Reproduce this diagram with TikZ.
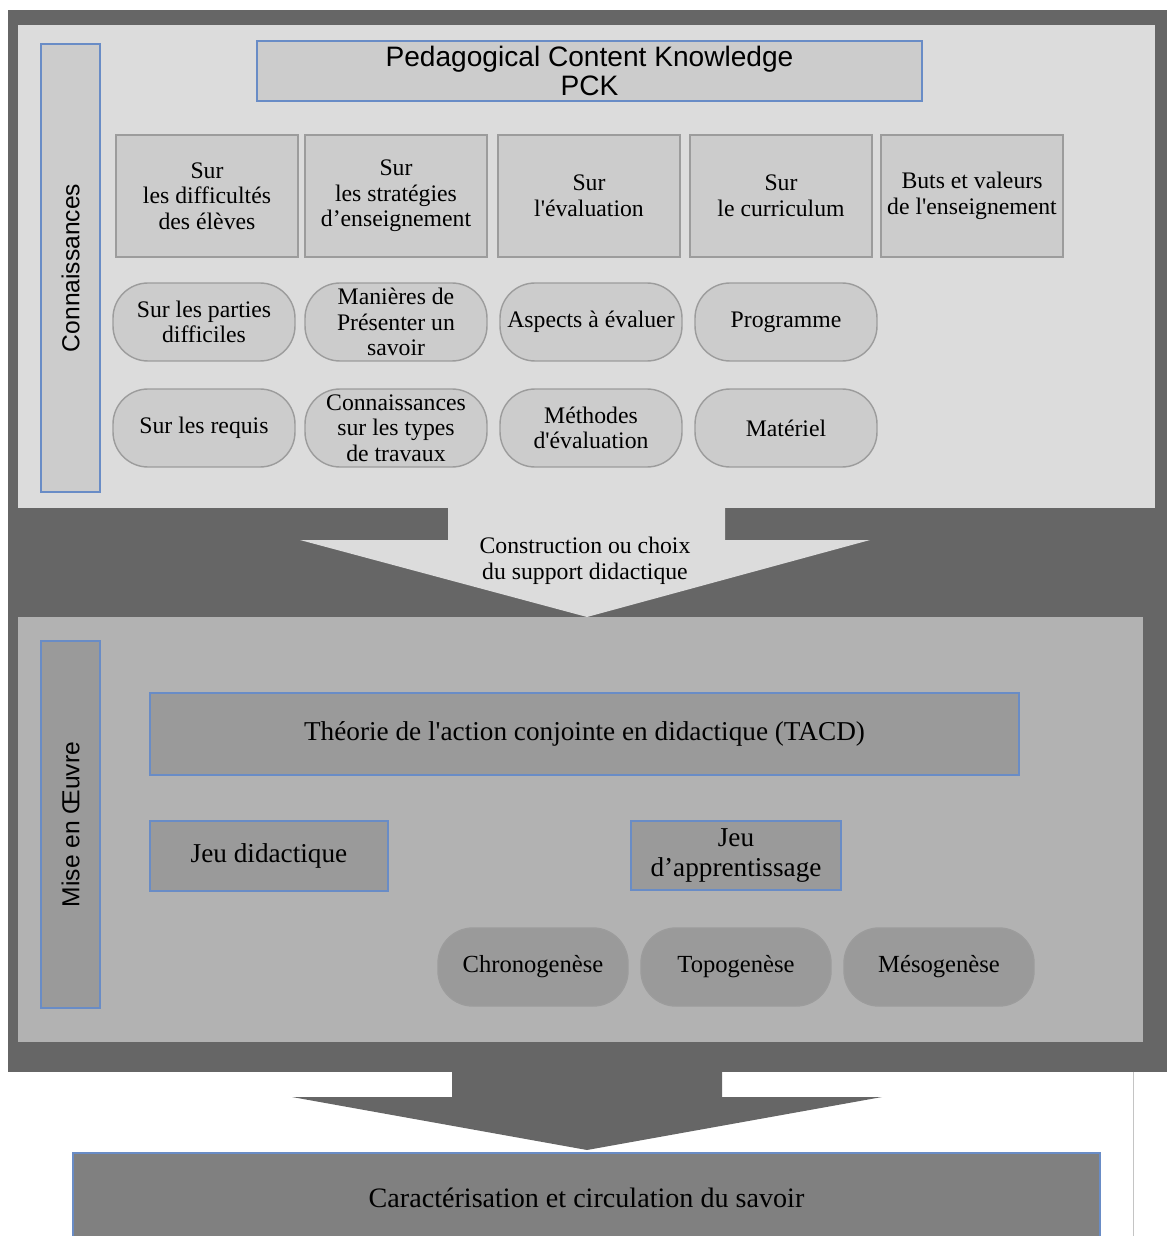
\documentclass[tikz,border=0pt]{standalone}
\usepackage{fontspec}
\setmainfont{Liberation Serif}
\newfontfamily\sansfont{Liberation Sans}
\newcommand\apos{\textquotesingle}
\definecolor{darkbg}{HTML}{666666}
\definecolor{toppanel}{HTML}{DCDCDC}
\definecolor{lowpanel}{HTML}{B2B2B2}
\definecolor{boxfill}{HTML}{CCCCCC}
\definecolor{lowfill}{HTML}{9A9A9A}
\definecolor{endfill}{HTML}{808080}
\definecolor{boxline}{HTML}{9C9C9C}
\definecolor{blueline}{RGB}{105,140,198}
\begin{document}
\begin{tikzpicture}[x=0.02cm,y=-0.02cm,
    every node/.style={align=center,inner sep=1pt,font=\fontsize{13.5}{14.5}\selectfont},
    sqbox/.style={draw=boxline,line width=0.8pt,fill=boxfill,minimum width=3.64cm,minimum height=2.44cm},
    pill/.style={draw=boxline,line width=0.8pt,fill=boxfill,rounded corners=0.7cm,minimum width=3.64cm,minimum height=1.56cm},
    lowpill/.style={pill,fill=lowfill,minimum width=3.8cm,font=\fontsize{14}{15}\selectfont},
    bluebox/.style={draw=blueline,line width=1pt,fill=boxfill},
    lowbox/.style={bluebox,fill=lowfill,font=\fontsize{15.5}{17.5}\selectfont},
    sidelbl/.style={bluebox,rotate=90,minimum height=1.18cm,font=\sansfont\fontsize{14}{14}\selectfont}]
  \useasboundingbox (0,0) rectangle (1167,1236);
  % panels
  \fill[darkbg] (8,10) rectangle (1167,1072);
  \fill[toppanel] (18,25) rectangle (1155,508);
  \fill[toppanel] (448,500) -- (725,500) -- (725,540) -- (870,540) -- (587,617)
    -- (300,540) -- (448,540) -- cycle;
  \fill[lowpanel] (18,617) rectangle (1143,1042);
  \fill[darkbg] (452,1060) -- (722,1060) -- (722,1097) -- (882,1097) -- (587,1150)
    -- (292,1097) -- (452,1097) -- cycle;
  \draw[boxline!60,line width=0.5pt] (1133,1072) -- (1133,1236);

  % Connaissances
  \node[sidelbl,fill=boxfill,minimum width=8.96cm] (conn) at (70.5,268) {Connaissances};
  \node[bluebox,minimum width=13.3cm,minimum height=1.2cm,font=\sansfont\fontsize{16}{16}\selectfont]
    (pck) at (589.5,71) {Pedagogical Content Knowledge\\PCK};

  \node[sqbox] (difel) at (207,196) {Sur\\les difficultés\\des élèves};
  \node[sqbox] (strat) at (396,196) {Sur\\les stratégies\\d’enseignement};
  \node[sqbox] (evalu) at (589,196) {Sur\\l\apos évaluation};
  \node[sqbox] (curri) at (781,196) {Sur\\le curriculum};
  \node[sqbox] (buts) at (972,196) {Buts et valeurs\\de l\apos enseignement};

  \node[pill] (parties) at (204,322) {Sur les parties\\difficiles};
  \node[pill] (manier) at (396,322) {Manières de\\Présenter un\\savoir};
  \node[pill] (aspect) at (591,322) {Aspects à évaluer};
  \node[pill] (progr) at (786,322) {Programme};

  \node[pill] (requis) at (204,428) {Sur les requis};
  \node[pill] (types) at (396,428) {Connaissances\\sur les types\\de travaux};
  \node[pill] (method) at (591,428) {Méthodes\\d\apos évaluation};
  \node[pill] (mater) at (786,428) {Matériel};

  \node (arrowlbl) at (585,561) {Construction ou choix\\du support didactique};

  % Mise en oeuvre
  \node[sidelbl,fill=lowfill,minimum width=7.34cm] (mise) at (70.5,824.5) {Mise en Œuvre};
  \node[lowbox,minimum width=17.38cm,minimum height=1.64cm] (tacd) at (584.5,734)
    {Théorie de l\apos action conjointe en didactique (TACD)};
  \node[lowbox,minimum width=4.76cm,minimum height=1.4cm] (jdid) at (269,856) {Jeu didactique};
  \node[lowbox,minimum width=4.2cm,minimum height=1.38cm] (japp) at (736,855.5) {Jeu\\d’apprentissage};

  \node[lowpill] (chrono) at (533,967) {Chronogenèse};
  \node[lowpill] (topo) at (736,967) {Topogenèse};
  \node[lowpill] (meso) at (939,967) {Mésogenèse};

  \node[bluebox,fill=endfill,minimum width=20.54cm,minimum height=1.8cm,font=\fontsize{16}{18}\selectfont]
    (carac) at (586.5,1198) {Caractérisation et circulation du savoir};
\end{tikzpicture}
\end{document}
